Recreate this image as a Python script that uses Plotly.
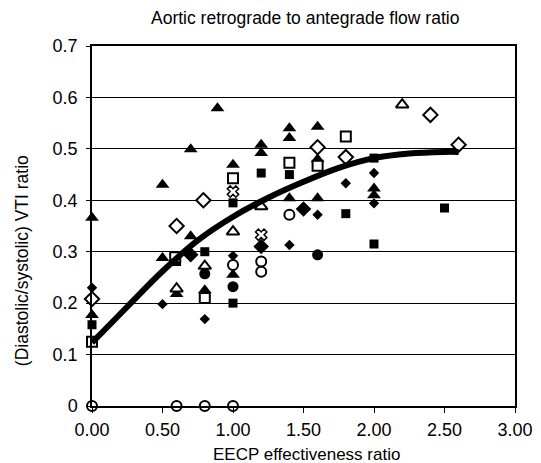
import plotly.graph_objects as go

# ---- data ----
tri_fill_x = [0.0, 0.0, 0.5, 0.5, 0.7, 0.7, 0.89, 1.0, 1.0, 0.8, 0.6, 1.2, 1.2, 1.4, 1.4, 1.6, 1.6, 1.4, 1.6, 2.0, 2.0]
tri_fill_y = [0.366, 0.177, 0.43, 0.288, 0.499, 0.33, 0.579, 0.469, 0.255, 0.225, 0.218, 0.508, 0.492, 0.540, 0.521, 0.543, 0.48, 0.404, 0.404, 0.423, 0.41]

tri_open_x = [0.6, 0.8, 1.0, 1.2, 2.2]
tri_open_y = [0.228, 0.272, 0.339, 0.388, 0.586]

sq_fill_x = [0.0, 0.6, 0.8, 1.0, 1.0, 1.2, 1.4, 1.8, 2.0, 2.0, 2.5]
sq_fill_y = [0.158, 0.281, 0.300, 0.395, 0.200, 0.453, 0.450, 0.374, 0.482, 0.315, 0.385]

sq_open_x = [0.0, 0.59, 0.8, 1.0, 1.4, 1.6, 1.8]
sq_open_y = [0.125, 0.289, 0.210, 0.443, 0.473, 0.467, 0.524]

dia_small_x = [0.0, 0.5, 0.8, 1.0, 1.4, 1.6, 1.8, 2.0, 2.0]
dia_small_y = [0.230, 0.198, 0.169, 0.292, 0.313, 0.372, 0.433, 0.453, 0.394]

dia_big_x = [0.7, 1.2, 1.5]
dia_big_y = [0.294, 0.310, 0.383]

dia_open_x = [0.0, 0.6, 0.79, 1.6, 1.8, 2.4, 2.6]
dia_open_y = [0.208, 0.350, 0.400, 0.503, 0.484, 0.566, 0.508]

circ_fill_x = [0.8, 1.0, 1.6]
circ_fill_y = [0.257, 0.232, 0.294]

circ_open_x = [0.0, 0.6, 0.8, 1.0, 1.0, 1.2, 1.2, 1.4]
circ_open_y = [0.0, 0.0, 0.0, 0.0, 0.274, 0.281, 0.261, 0.372]

cross_x = [1.0, 1.2]
cross_y = [0.417, 0.333]

curve_x = [0.0, 0.25, 0.5, 0.75, 1.0, 1.25, 1.5, 1.75, 2.0, 2.25, 2.5, 2.6]
curve_y = [0.123, 0.193, 0.262, 0.322, 0.368, 0.405, 0.436, 0.463, 0.482, 0.491, 0.494, 0.494]

x_tick_vals = [0, 0.5, 1.0, 1.5, 2.0, 2.5, 3.0]
x_tick_text = ["0.00", "0.50", "1.00", "1.50", "2.00", "2.50", "3.00"]
y_tick_vals = [0, 0.1, 0.2, 0.3, 0.4, 0.5, 0.6, 0.7]
y_tick_text = ["0", "0.1", "0.2", "0.3", "0.4", "0.5", "0.6", "0.7"]

FONT = "Liberation Sans, Arial, sans-serif"

fig = go.Figure()

def add(x, y, symbol, size, color, lw=0):
    fig.add_trace(go.Scatter(
        x=x, y=y, mode="markers", cliponaxis=False, showlegend=False,
        marker=dict(symbol=symbol, size=size, color=color,
                    line=dict(color="black", width=lw))))

add(tri_fill_x, tri_fill_y, "triangle-up", 12, "black")
add(sq_fill_x, sq_fill_y, "square", 9, "black")
add(dia_small_x, dia_small_y, "diamond", 8, "black")
add(dia_big_x, dia_big_y, "diamond", 12, "black")
add(circ_fill_x, circ_fill_y, "circle", 11, "black")
add(tri_open_x, tri_open_y, "triangle-up", 11, "white", 2)
add(sq_open_x, sq_open_y, "square", 10, "white", 2)
add(dia_open_x, dia_open_y, "diamond", 11, "white", 2)
add(circ_open_x, circ_open_y, "circle", 10, "white", 2)
add(cross_x, cross_y, "x", 10, "white", 1.5)

fig.add_trace(go.Scatter(
    x=curve_x, y=curve_y, mode="lines", showlegend=False,
    line=dict(color="black", width=6, shape="spline")))

fig.update_layout(
    width=541, height=463,
    margin=dict(l=92, r=26, t=46, b=57, autoexpand=False),
    paper_bgcolor="white", plot_bgcolor="white",
    font=dict(family=FONT, size=18, color="black"),
    xaxis=dict(range=[0, 3], tickvals=x_tick_vals, ticktext=x_tick_text,
               showgrid=False, zeroline=False, showline=True, mirror=True,
               linecolor="black", linewidth=1.5, ticks="outside", ticklen=5,
               tickcolor="black", tickfont=dict(size=18), ticklabelstandoff=2),
    yaxis=dict(range=[0, 0.7], tickvals=y_tick_vals, ticktext=y_tick_text,
               showgrid=True, gridcolor="black", gridwidth=1, zeroline=False,
               showline=True, mirror=True, linecolor="black", linewidth=1.5,
               ticks="outside", ticklen=4, tickcolor="black",
               tickfont=dict(size=18), ticklabelstandoff=5),
    annotations=[
        dict(text="Aortic retrograde to antegrade flow ratio", xref="paper", yref="paper",
             x=0.504, y=1.078, xanchor="center", yanchor="middle", showarrow=False,
             font=dict(size=17.5)),
        dict(text="EECP effectiveness ratio", xref="paper", yref="paper",
             x=0.508, y=-0.136, xanchor="center", yanchor="middle", showarrow=False,
             font=dict(size=17)),
        dict(text="(Diastolic/systolic) VTI ratio", xref="paper", yref="paper",
             x=-0.1655, y=0.405, xanchor="center", yanchor="middle", showarrow=False,
             textangle=-90, font=dict(size=17.5)),
    ],
)

fig.write_html("out.html", config={"displayModeBar": False},
               post_script="document.body.style.margin='0';document.body.style.overflow='hidden';")
